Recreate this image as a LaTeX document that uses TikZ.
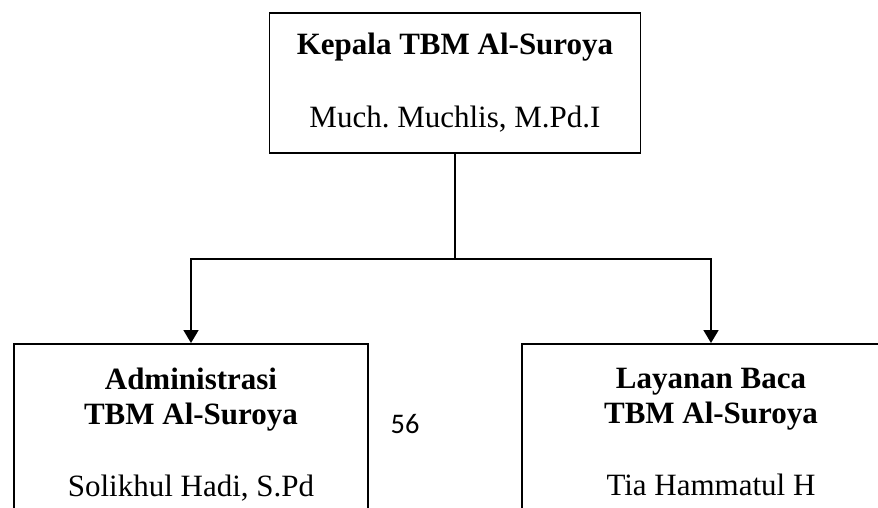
\documentclass[tikz,border=0pt]{standalone}
\usepackage{fontspec}
\setmainfont{Liberation Serif}
\newfontfamily\pagenumfont{Carlito}
\frenchspacing
\usetikzlibrary{positioning, arrows.meta}
\tikzset{
    unit/.style = {draw, line width = 0.9pt, align = center, font = \fontsize{15.5}{17.5}\selectfont, inner xsep = 0pt},
    tip/.style = {line width = 0.9pt, -{Triangle[width = 7.5pt, length = 6.5pt]}}
}

\begin{document}
\begin{tikzpicture}
        [
            x = 0.5pt, y = -0.5pt
        ]
        \clip (0,0) rectangle (878,508);
        \node[unit, minimum width = 185.5pt, minimum height = 70pt]        (kepala)  at (455,83)  {\textbf{Kepala TBM Al-Suroya}\\[19pt] Much. Muchlis, M.Pd.I};
        \node[unit, anchor = north, minimum width = 177pt, inner ysep = 12pt] (admin)   at (191,343) {\textbf{Administrasi}\\ \textbf{TBM Al-Suroya}\\[18.5pt] Solikhul Hadi, S.Pd\\[40pt] \mbox{}};
        \node[unit, anchor = north, minimum width = 189pt, inner ysep = 12pt] (layanan) at (711,343) {\textbf{Layanan Baca}\\ \textbf{TBM Al-Suroya}\\[18.5pt] Tia Hammatul H\\[40pt] \mbox{}};
        \node[font = \pagenumfont\fontsize{14.2}{16}\selectfont, anchor = base] (page) at (405,433) {56};
        % arrows
        \coordinate (fork) at (455,259);
        \draw[line width = 0.9pt] (kepala) -- (fork);
        \draw[tip] (fork) -| (admin.north);
        \draw[tip] (fork) -| (layanan.north);
    \end{tikzpicture}
\end{document}
